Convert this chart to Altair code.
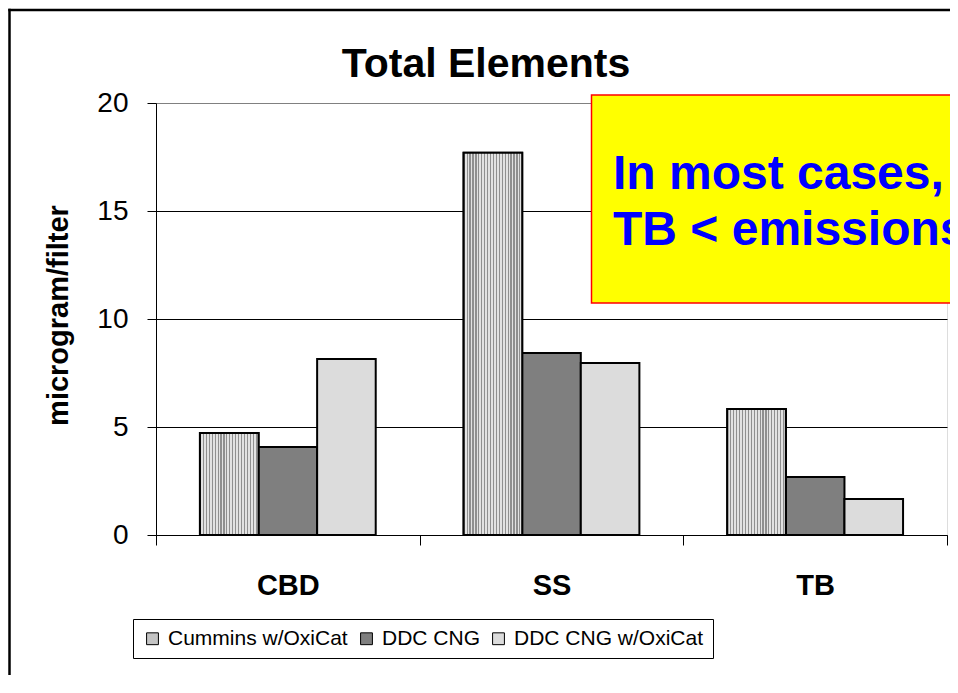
import altair as alt
import pandas as pd

categories = ["CBD", "SS", "TB"]
series = ["Cummins w/OxiCat", "DDC CNG", "DDC CNG w/OxiCat"]
cummins_oxicat = [4.72, 17.7, 5.83]
ddc_cng = [4.07, 8.43, 2.69]
ddc_cng_oxicat = [8.15, 7.96, 1.67]
y_ticks = [0, 5, 10, 15, 20]
chart_title = "Total Elements"
y_title = "microgram/filter"
note_lines = ["In most cases,", "TB < emissions"]

FONT = "Liberation Sans, Arial, sans-serif"
series_colors = ["#c4c4c4", "#7f7f7f", "#dcdcdc"]

rows = []
for vals, s in zip([cummins_oxicat, ddc_cng, ddc_cng_oxicat], series):
    for c, v in zip(categories, vals):
        rows.append({"cat": c, "series": s, "value": v})
df = pd.DataFrame(rows)

x_enc = alt.X(
    "cat:N", sort=categories,
    scale=alt.Scale(domain=categories, paddingInner=0, paddingOuter=0),
    axis=alt.Axis(title=None, labelAngle=0, labelFont=FONT, labelFontSize=29,
                  labelFontWeight="bold", labelColor="black", tickBand="extent",
                  tickSize=10, tickColor="black", domainColor="black",
                  labelPadding=40, labelBaseline="middle", grid=False),
)
xoff_enc = alt.XOffset("series:N", sort=series,
                       scale=alt.Scale(domain=series, paddingInner=0, paddingOuter=0.75))
y_enc = alt.Y(
    "value:Q",
    scale=alt.Scale(domain=[0, 20], nice=False, zero=True),
    axis=alt.Axis(values=y_ticks, title=y_title, titleFont=FONT, titleFontSize=29,
                  titleFontWeight="bold", titleColor="black", titleAngle=270,
                  titleX=-98, titleY=212, titleAlign="center", titleBaseline="middle",
                  labelFont=FONT, labelFontSize=28, labelColor="black",
                  labelPadding=19, tickSize=9, tickColor="black", domainColor="black",
                  grid=True, gridColor=alt.condition("datum.value == 20", alt.value("#808080"), alt.value("black")),
                  gridWidth=1),
)

base = alt.Chart(df)

bars = base.mark_bar(stroke="black", strokeWidth=2).encode(
    x=x_enc, xOffset=xoff_enc, y=y_enc,
    fill=alt.Fill("series:N", sort=series,
                  scale=alt.Scale(domain=series, range=series_colors),
                  legend=alt.Legend(title=None, orient="none", legendX=-23, legendY=516,
                                    direction="horizontal", strokeColor="black",
                                    fillColor="white", padding=9,
                                    labelFont=FONT, labelFontSize=21, labelColor="black",
                                    labelLimit=0,
                                    symbolType="square", symbolSize=140,
                                    symbolStrokeColor="black", symbolStrokeWidth=1,
                                    symbolOpacity=1, columnPadding=8, labelOffset=5)),
)

stops = []
n = 20
for i in range(n):
    stops.append(alt.GradientStop(offset=i / n, color="#8f8f8f"))
    stops.append(alt.GradientStop(offset=(i + 0.4) / n, color="#8f8f8f"))
    stops.append(alt.GradientStop(offset=(i + 0.4) / n, color="#e2e2e2"))
    stops.append(alt.GradientStop(offset=(i + 1) / n, color="#e2e2e2"))
stripe = alt.Gradient(gradient="linear", stops=stops, x1=0, x2=1, y1=0, y2=0)

stripes = base.transform_filter(alt.datum.series == series[0]).mark_bar(
    fill=stripe, stroke="black", strokeWidth=2
).encode(x=x_enc, xOffset=xoff_enc, y=y_enc)

one = pd.DataFrame({"k": [0]})
frame_left = alt.Chart(one).mark_rule(color="black", strokeWidth=2.5).encode(
    x=alt.value(-146.5), y=alt.value(-94.2), y2=alt.value(700))
frame_top = alt.Chart(one).mark_rule(color="black", strokeWidth=2.5).encode(
    x=alt.value(-147.7), x2=alt.value(900), y=alt.value(-93))

note_box = alt.Chart(one).mark_rect(fill="#FFFF00", stroke="#FF0000", strokeWidth=1.5).encode(
    x=alt.value(435.5), x2=alt.value(900), y=alt.value(-8), y2=alt.value(200))

note1 = alt.Chart(one).mark_text(text=note_lines[0], align="left", baseline="alphabetic",
                                 font=FONT, fontSize=48, fontWeight="bold", color="#0000FF").encode(
    x=alt.value(457), y=alt.value(86))
note2 = alt.Chart(one).mark_text(text=note_lines[1], align="left", baseline="alphabetic",
                                 font=FONT, fontSize=48, fontWeight="bold", color="#0000FF").encode(
    x=alt.value(457), y=alt.value(142))

title = alt.Chart(one).mark_text(text=chart_title, align="center", baseline="alphabetic",
                                 font=FONT, fontSize=41, fontWeight="bold", color="black").encode(
    x=alt.value(330), y=alt.value(-26))

chart = alt.layer(bars, stripes, frame_left, frame_top, note_box, note1, note2, title).properties(
    width=791, height=432,
    autosize=alt.AutoSizeParams(type="none"),
    padding={"left": 148, "top": 95, "right": 3, "bottom": 140},
).configure_view(stroke="#808080", strokeWidth=1).configure(background="white")

chart.save("out.html", embed_options={"renderer": "svg", "actions": False})
